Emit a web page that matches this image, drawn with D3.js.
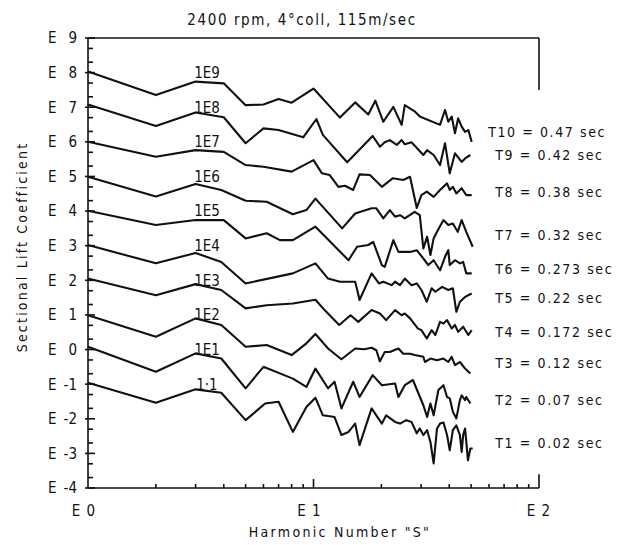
<!DOCTYPE html>
<html>
<head>
<meta charset="utf-8">
<script src="https://cdn.jsdelivr.net/npm/d3@7"></script>
<style>
body { margin: 0; background: #fff; }
text { font-family: "DejaVu Sans Condensed", "Liberation Sans Narrow", sans-serif; fill: #111; }
</style>
</head>
<body>
<script>
var w = 632; // width of SVG space
var h = 545; // height of SVG space

// y values are the exponent ("E") of the lift coefficient, before the curve's own multiplier
var multipliers = [0, 1, 2, 3, 4, 5, 6, 7, 8, 9];
var curveLabels = ["1\u00b71", "1E1", "1E2", "1E3", "1E4", "1E5", "1E6", "1E7", "1E8", "1E9"];
var periodLabels = ["T1 = 0.02 sec", "T2 = 0.07 sec", "T3 = 0.12 sec", "T4 = 0.172 sec", "T5 = 0.22 sec",
    "T6 = 0.273 sec", "T7 = 0.32 sec", "T8 = 0.38 sec", "T9 = 0.42 sec", "T10 = 0.47 sec"];
var yTicks = [-4, -3, -2, -1, 0, 1, 2, 3, 4, 5, 6, 7, 8, 9];
var xTicks = [1, 10, 100];

// [harmonic number S, log10 coefficient]
var T1 = [[1,-0.96],[2,-1.54],[3,-1.15],[3.9,-1.25],[5,-2.04],[6.1,-1.56],[7,-1.51],[8.1,-2.38],[9.3,-1.66],[10.2,-1.39],[11,-1.90],[12.4,-1.95],[13.3,-2.47],[14.3,-2.38],[15.3,-2.14],[16,-2.76],[18.1,-1.70],[20.1,-2.14],[21,-1.90],[23,-2.09],[24.2,-2.14],[25.8,-2.04],[27.2,-2.09],[28.7,-2.42],[29.6,-2.28],[30.7,-2.47],[31.9,-2.33],[33,-2.67],[34.1,-3.29],[35.3,-2.28],[36.4,-2.14],[37.7,-2.11],[39.1,-2.47],[40.2,-2.91],[41.5,-2.33],[43,-2.19],[44.6,-2.47],[45.4,-2.96],[46.1,-2.47],[47,-2.28],[47.6,-2.67],[48.4,-3.20],[49.6,-2.86],[50.8,-2.86]];
var T2 = [[1,-0.92],[2,-1.64],[3,-1.11],[3.9,-1.26],[5,-2.12],[6,-1.50],[8.1,-1.84],[9.3,-2.08],[10.2,-1.55],[11.6,-2.12],[12.4,-1.93],[13.3,-2.70],[15,-1.93],[16,-2.37],[18.3,-1.74],[20.1,-2.03],[23,-1.98],[23.8,-2.37],[25.4,-2.03],[27.6,-1.88],[29,-2.22],[30.7,-2.61],[31.9,-2.95],[33,-2.56],[34.1,-2.90],[35.8,-2.17],[37.7,-2.03],[39.1,-2.37],[40.2,-2.41],[41.5,-2.80],[43,-2.99],[44.6,-2.46],[45.4,-2.32],[47,-2.46],[47.6,-2.37],[49.6,-2.56]];
var T3 = [[1,-1.01],[2,-1.63],[3,-1.10],[3.9,-1.29],[5,-1.92],[6.2,-1.87],[8,-2.16],[9.3,-1.82],[10.2,-1.55],[11.6,-1.97],[13.3,-2.28],[15.3,-1.97],[16.8,-1.99],[18.1,-1.95],[19,-2.02],[19.7,-2.34],[20.7,-2.07],[21.8,-2.07],[23.8,-1.97],[25,-2.12],[26.8,-2.12],[28.1,-2.16],[30.7,-2.21],[31.2,-2.36],[33,-2.26],[35.3,-2.31],[37.7,-2.26],[39.6,-2.36],[41,-2.21],[42.4,-2.45],[44.6,-2.36],[47,-2.55],[49.6,-2.69]];
var T4 = [[1,-0.95],[2,-1.43],[3,-1.11],[3.9,-1.28],[5,-1.81],[6.2,-1.72],[8.1,-1.67],[10.2,-1.56],[11.2,-1.86],[13,-2.29],[14.6,-2.01],[15.8,-2.20],[18.1,-1.86],[19.7,-1.96],[21,-2.15],[23,-1.86],[24.6,-2.01],[25.4,-1.96],[26.8,-2.10],[29,-2.39],[30.1,-2.44],[31.8,-2.68],[33.4,-2.44],[34.7,-2.58],[36.4,-2.20],[37.7,-2.25],[39.1,-2.15],[41,-2.39],[42.4,-2.29],[43.8,-2.49],[46.1,-2.34],[48.6,-2.58],[50.3,-2.44]];
var T5 = [[1,-0.98],[2,-1.51],[3,-1.21],[3.9,-1.47],[5,-2.09],[8.1,-1.80],[10.2,-1.51],[11.6,-1.95],[13.1,-2.04],[15.3,-2.04],[15.7,-2.33],[16,-2.57],[18.1,-1.80],[19.5,-2.09],[20.4,-2.04],[22.2,-2.14],[23,-2.04],[24.2,-2.14],[25.4,-1.95],[27.2,-2.14],[28.7,-2.09],[30.1,-2.28],[31.8,-2.62],[33.4,-2.23],[34.7,-2.33],[37.2,-2.19],[39.6,-2.28],[41.5,-2.23],[43,-2.91],[44.6,-2.62],[47,-2.48],[50.3,-2.38]];
var T6 = [[1,-0.99],[2,-1.40],[3,-1.26],[4,-1.26],[5,-1.79],[6.2,-1.64],[7.1,-1.84],[8.1,-1.84],[10.2,-1.45],[14.3,-2.42],[15.6,-2.03],[17.5,-1.98],[18.4,-1.89],[20.1,-2.56],[20.7,-2.61],[22.6,-1.84],[23.8,-2.18],[26.8,-2.18],[28.7,-2.13],[30.7,-2.37],[32.3,-2.56],[34.1,-2.42],[36.4,-2.71],[38.3,-2.32],[39.6,-2.13],[40.2,-2.56],[42.4,-2.42],[44.6,-2.51],[46.1,-2.47],[47.6,-2.80],[50.3,-2.80]];
var T7 = [[1,-1.01],[2,-1.58],[3,-1.22],[3.9,-1.39],[5,-1.70],[6.2,-1.73],[8.1,-2.09],[9.3,-1.97],[10.2,-1.64],[13.4,-2.50],[15.3,-2.07],[18.1,-1.92],[19,-1.92],[20.4,-2.21],[21.8,-1.97],[23,-2.16],[24.2,-2.12],[25.4,-2.21],[28.1,-2.02],[29.6,-2.12],[30.7,-3.08],[31.9,-2.74],[33,-3.27],[34.1,-2.79],[35.3,-2.60],[37.7,-2.26],[39.6,-2.40],[41.5,-2.36],[43.6,-2.60],[45.4,-2.26],[47.6,-2.60],[50.8,-3.03]];
var T8 = [[1,-1.00],[2,-1.43],[3,-1.24],[4,-1.29],[5,-1.67],[6,-1.72],[8,-1.86],[10,-1.53],[10.9,-1.91],[11.8,-1.96],[12.9,-2.30],[13.8,-2.27],[15,-2.39],[16,-1.94],[17.8,-1.96],[20.1,-2.30],[22.5,-2.05],[25,-2.10],[26.8,-2.01],[28.7,-2.91],[30.1,-2.54],[31.8,-2.44],[34.1,-2.59],[36.4,-2.39],[39.1,-2.20],[40.2,-2.39],[41.5,-2.30],[43,-2.49],[45.4,-2.34],[47.6,-2.54],[50.3,-2.54]];
var T9 = [[1,-0.92],[2,-1.54],[3,-1.15],[4,-1.29],[5,-2.04],[6,-1.61],[7,-1.66],[9,-1.87],[10.3,-1.34],[11,-1.80],[14.1,-2.59],[18.3,-1.83],[19.7,-2.14],[20.7,-2.01],[21.8,-1.95],[23.4,-2.09],[24.6,-1.95],[25.4,-2.07],[27.2,-2.01],[30.7,-2.38],[31.9,-2.24],[34.1,-2.38],[36.4,-2.67],[38.3,-2.04],[40.2,-2.91],[42.4,-2.33],[45.4,-2.58],[47,-2.48],[49.6,-2.38]];
var T10 = [[1,-0.97],[2,-1.65],[3,-1.26],[4,-1.31],[5,-1.94],[6,-1.92],[7,-1.76],[8,-1.87],[10,-1.46],[13.1,-2.30],[15.3,-1.86],[17.5,-2.21],[18.8,-1.81],[20.4,-2.42],[22.6,-1.99],[24.6,-2.51],[25.4,-1.94],[28.2,-2.13],[29.6,-2.27],[36.4,-2.51],[38.3,-2.08],[39.6,-2.42],[41,-2.27],[42.4,-2.75],[43.8,-2.32],[45.4,-2.56],[47,-2.71],[48.6,-2.66],[50.3,-3.00]];
var series = [T1, T2, T3, T4, T5, T6, T7, T8, T9, T10];

var svg = d3.select("body").append("svg").attr("width", w).attr("height", h);

var x = d3.scaleLog().domain([1, 100]).range([88, 539]);
var y = d3.scaleLinear().domain([-4, 9]).range([488, 38]);

var axes = svg.append("g").attr("stroke", "#111").attr("stroke-width", 1.6).attr("fill", "none");
// frame: left, bottom, top, and the short pieces of the right side
axes.append("line").attr("x1", x(1)).attr("x2", x(1)).attr("y1", y(9)).attr("y2", y(-4));
axes.append("line").attr("x1", x(1)).attr("x2", x(100)).attr("y1", y(-4)).attr("y2", y(-4));
axes.append("line").attr("x1", x(1)).attr("x2", x(100)).attr("y1", y(9)).attr("y2", y(9));
axes.append("line").attr("x1", x(100)).attr("x2", x(100)).attr("y1", y(9)).attr("y2", y(7.5));
axes.append("line").attr("x1", x(100)).attr("x2", x(100)).attr("y1", y(-3.6)).attr("y2", y(-4));

// left ticks
yTicks.forEach(function (d) {
    axes.append("line").attr("x1", x(1) - 3).attr("x2", x(1) + 7).attr("y1", y(d)).attr("y2", y(d));
    if (d < 9) {
        [2, 5].forEach(function (m) {
            var v = d + Math.log10(m);
            axes.append("line").attr("x1", x(1)).attr("x2", x(1) + 5).attr("y1", y(v)).attr("y2", y(v));
        });
    }
});
// bottom ticks
[1, 10].forEach(function (dec) {
    d3.range(2, 10).forEach(function (m) {
        axes.append("line").attr("x1", x(m * dec)).attr("x2", x(m * dec))
            .attr("y1", y(-4)).attr("y2", y(-4) - 4);
    });
});
axes.append("line").attr("x1", x(10)).attr("x2", x(10)).attr("y1", y(-4)).attr("y2", y(-4) - 9);

// tick labels
yTicks.forEach(function (d) {
    svg.append("text").attr("x", 48).attr("y", y(d)).attr("dy", "0.36em")
        .style("font-size", "15px").text("E");
    svg.append("text").attr("x", 77).attr("y", y(d)).attr("dy", "0.36em")
        .attr("text-anchor", "end").style("font-size", "15px").text(d);
});
xTicks.forEach(function (d, i) {
    svg.append("text").attr("x", x(d) - (i < 2 ? 4 : 0)).attr("y", 516)
        .attr("text-anchor", "middle").style("font-size", "15px").style("letter-spacing", "1px").text("E " + i);
});

// curves
var line = d3.line()
    .x(function (d) { return x(d[0]); })
    .y(function (d) { return y(d[1] + d[2]); });

series.forEach(function (s, i) {
    var pts = s.map(function (p) { return [p[0], p[1], multipliers[i]]; });
    svg.append("path").attr("d", line(pts)).attr("fill", "none")
        .attr("stroke", "#111").attr("stroke-width", 2.1).attr("stroke-linejoin", "round");

    svg.append("text").attr("x", x(3.37)).attr("y", y(multipliers[i] - 1)).attr("dy", "0.36em")
        .attr("text-anchor", "middle").style("font-size", "15px").text(curveLabels[i]);
});

// period labels at the right end of each curve
var labelE = [-2.71, -2.46, -2.40, -2.49, -2.52, -2.66, -2.69, -2.44, -2.38, -2.71];
periodLabels.forEach(function (t, i) {
    svg.append("text").attr("x", i == 9 ? x(59.5) : x(64)).attr("y", y(multipliers[i] + labelE[i]))
        .attr("dy", "0.36em").style("font-size", "14px").style("letter-spacing", "1.6px").text(t);
});

// titles
svg.append("text").attr("x", 302).attr("y", 25).attr("text-anchor", "middle")
    .style("font-size", "15px").style("letter-spacing", "1.6px").text("2400 rpm, 4\u00b0coll, 115m/sec");
svg.append("text").attr("x", 340).attr("y", 537).attr("text-anchor", "middle")
    .style("font-size", "14px").style("letter-spacing", "2.3px").text("Harmonic Number \"S\"");
svg.append("text").attr("transform", "translate(27,247) rotate(-90)").attr("text-anchor", "middle")
    .style("font-size", "14px").style("letter-spacing", "2.2px").text("Sectional Lift Coefficient");
</script>
</body>
</html>
